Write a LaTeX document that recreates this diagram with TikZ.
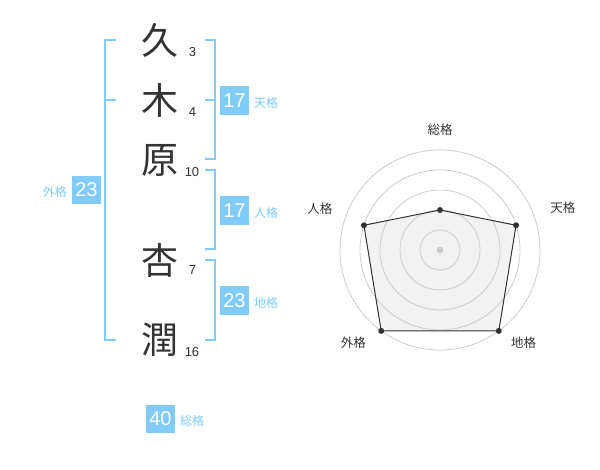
\documentclass[tikz,border=0pt]{standalone}
\usepackage{fontspec}
\setmainfont{Liberation Sans}
\newfontfamily\jp{Noto Sans CJK JP}
\usetikzlibrary{positioning}
\definecolor{kakublue}{HTML}{80CBF7}
\definecolor{ink}{HTML}{333333}
\definecolor{ringgray}{HTML}{CCCCCC}
\definecolor{areagray}{HTML}{F2F2F2}
\tikzset{
  kanji/.style={text=ink, font=\jp\fontsize{37}{37}\selectfont, inner sep=0},
  strokes/.style={text=ink, font=\fontsize{13}{13}\selectfont, inner sep=0},
  bracket/.style={draw=kakublue, line width=2pt},
  numbox/.style={fill=kakublue, text=white, font=\fontsize{20}{20}\selectfont, minimum size=28.5pt, inner sep=0},
  kakulabel/.style={text=kakublue, font=\jp\fontsize{12}{12}\selectfont, inner sep=0},
  ring/.style={draw=ringgray, line width=0.8pt},
  axislabel/.style={text=ink, font=\jp\fontsize{12.5}{12.5}\selectfont, inner sep=0}
}
\begin{document}
\begin{tikzpicture}[x=1pt, y=-1pt]
  \useasboundingbox (0,0) rectangle (600,470);
  % name
  \node[kanji] (c1) at (160,40) {久};
  \node[kanji] (c2) at (160,100) {木};
  \node[kanji] (c3) at (160,160) {原};
  \node[kanji] (c4) at (160,260) {杏};
  \node[kanji] (c5) at (160,340) {潤};
  \node[strokes] (s1) at (192.5,52.5) {3};
  \node[strokes] (s2) at (192.5,112.5) {4};
  \node[strokes] (s3) at (192,172.5) {10};
  \node[strokes] (s4) at (192.5,270) {7};
  \node[strokes] (s5) at (192,352) {16};

  % brackets
  \draw[bracket] (116,40) -- (105,40) -- (105,340) -- (116,340);
  \draw[bracket] (105,100) -- (116,100);
  \draw[bracket] (205,40) -- (215,40) -- (215,159) -- (205,159);
  \draw[bracket] (205,100) -- (215,100);
  \draw[bracket] (205,170) -- (215,170) -- (215,249) -- (205,249);
  \draw[bracket] (205,260) -- (215,260) -- (215,340) -- (205,340);

  \node[numbox] (tenbox) at (234.5,100.5) {17};
  \node[kakulabel, right=5pt of tenbox.base east, anchor=base west] (tenlbl) {天格};
  \node[numbox] (jinbox) at (234.5,210.5) {17};
  \node[kakulabel, right=5pt of jinbox.base east, anchor=base west] (jinlbl) {人格};
  \node[numbox] (chibox) at (234.5,300.5) {23};
  \node[kakulabel, right=5pt of chibox.base east, anchor=base west] (chilbl) {地格};
  \node[numbox] (gaibox) at (86.5,190) {23};
  \node[kakulabel, left=5pt of gaibox.base west, anchor=base east] (gailbl) {外格};
  \node[numbox] (soubox) at (160.5,419) {40};
  \node[kakulabel, right=5pt of soubox.base east, anchor=base west] (soulbl) {総格};

  % radar
  \begin{scope}[shift={(440,250)}]
    \coordinate (ctr) at (0,0);
    \coordinate (soupt) at (-90:40);
    \coordinate (tenpt) at (-18:80);
    \coordinate (chipt) at (54:100);
    \coordinate (gaipt) at (126:100);
    \coordinate (jinpt) at (198:80);
    \fill[areagray] (soupt) -- (tenpt) -- (chipt) -- (gaipt) -- (jinpt) -- cycle;
    \foreach \r in {20,40,60,80,100}
      \draw[ring] (ctr) circle (\r pt);
    \draw[ink, line width=1pt] (soupt) -- (tenpt) -- (chipt) -- (gaipt) -- (jinpt) -- cycle;
    \foreach \p in {soupt,tenpt,chipt,gaipt,jinpt}
      \fill[ink] (\p) circle (3pt);
    \fill[ringgray] (ctr) circle (3.3pt);
    \node[axislabel] (soutxt) at (-90:120) {総格};
    \node[axislabel] (tentxt) at (-19:130) {天格};
    \node[axislabel] (chitxt) at (48:125) {地格};
    \node[axislabel] (gaitxt) at (133:127) {外格};
    \node[axislabel] (jintxt) at (199:127) {人格};
  \end{scope}
\end{tikzpicture}
\end{document}
